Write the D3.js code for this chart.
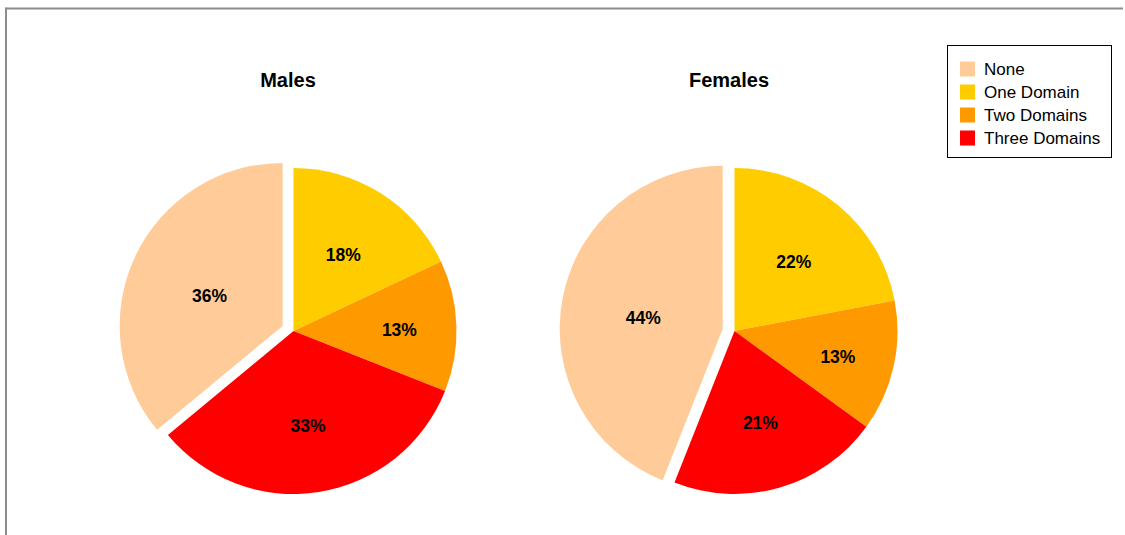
<!DOCTYPE html>
<html>
<head>
<meta charset="utf-8">
<script src="https://cdn.jsdelivr.net/npm/d3@7"></script>
<style>
  html, body { margin: 0; padding: 0; background: #fff; }
  svg { display: block; font-family: Arial, "Liberation Sans", Helvetica, sans-serif; }
</style>
</head>
<body>
<svg id="chart" width="1125" height="535"></svg>
<script>
const categories = ["None", "One Domain", "Two Domains", "Three Domains"];
const colors = ["#FFCC99", "#FFCC00", "#FF9900", "#FF0000"];
const malesValues = [36, 18, 13, 33];
const femalesValues = [44, 22, 13, 21];
const panels = [
  { title: "Males", values: malesValues, cx: 293.5 },
  { title: "Females", values: femalesValues, cx: 734.5 }
];

const W = 1125, H = 535;
const svg = d3.select("#chart");

// frame (cropped)
svg.append("line").attr("x1", 6).attr("x2", 1123).attr("y1", 8.5).attr("y2", 8.5)
  .attr("stroke", "#8c8c8c").attr("stroke-width", 2);
svg.append("line").attr("x1", 6).attr("x2", 6).attr("y1", 7.5).attr("y2", H)
  .attr("stroke", "#8c8c8c").attr("stroke-width", 2);

const R = 163, cy = 331, explode = 12;
const color = d3.scaleOrdinal().domain(categories).range(colors);
const arc = d3.arc().innerRadius(0).outerRadius(R);

panels.forEach(p => {
  const total = d3.sum(p.values);
  const noneFrac = p.values[0] / total;
  const pie = d3.pie().sort(null).value(d => d.v)
    .startAngle(-noneFrac * 2 * Math.PI)
    .endAngle(2 * Math.PI - noneFrac * 2 * Math.PI);
  const data = pie(p.values.map((v, i) => ({ cat: categories[i], v })));

  const g = svg.append("g").attr("transform", `translate(${p.cx},${cy})`);

  g.selectAll("path").data(data).join("path")
    .attr("d", arc)
    .attr("fill", d => color(d.data.cat))
    .attr("transform", d => {
      if (d.data.cat !== "None") return null;
      const m = (d.startAngle + d.endAngle) / 2;
      return `translate(${explode * Math.sin(m)},${-explode * Math.cos(m)})`;
    });

  const lr = d => R * (d.data.v / total < 0.15 ? 0.65 : 0.57);
  g.selectAll("text.lbl").data(data).join("text")
    .attr("class", "lbl")
    .attr("x", d => lr(d) * Math.sin((d.startAngle + d.endAngle) / 2))
    .attr("y", d => -lr(d) * Math.cos((d.startAngle + d.endAngle) / 2))
    .attr("dy", d => d.data.cat === "None" ? "0.62em" : "0.5em")
    .attr("text-anchor", "middle")
    .attr("font-size", "17.5px")
    .attr("font-weight", "bold")
    .attr("fill", "#000")
    .text(d => Math.round(d.data.v / total * 100) + "%");

  svg.append("text")
    .attr("x", p.cx - 5.5).attr("y", 87)
    .attr("text-anchor", "middle")
    .attr("font-size", "20px")
    .attr("font-weight", "bold")
    .attr("fill", "#000")
    .text(p.title);
});

// legend
const lg = svg.append("g");
lg.append("rect").attr("x", 947.5).attr("y", 45.5).attr("width", 164).attr("height", 112)
  .attr("fill", "#fff").attr("stroke", "#000").attr("stroke-width", 1);
const rows = lg.selectAll("g.row").data(categories).join("g")
  .attr("class", "row")
  .attr("transform", (d, i) => `translate(960,${69 + i * 23})`);
rows.append("rect").attr("x", 0).attr("y", -7.5).attr("width", 15).attr("height", 15)
  .attr("fill", d => color(d));
rows.append("text").attr("x", 24).attr("y", 0).attr("dy", "0.35em")
  .attr("font-size", "17px").attr("fill", "#000").text(d => d);
</script>
</body>
</html>
